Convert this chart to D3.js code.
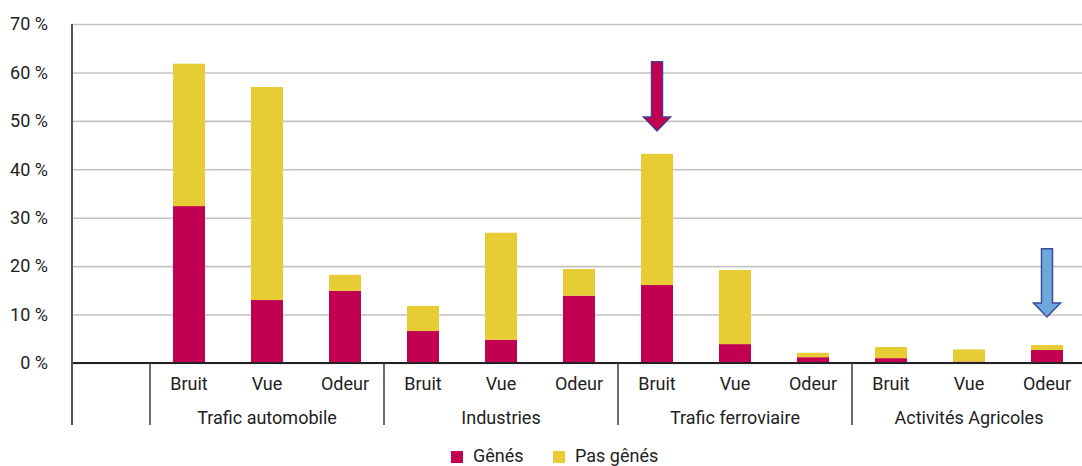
<!DOCTYPE html>
<meta charset="utf-8">
<script src="https://d3js.org/d3.v7.min.js"></script>
<style>
  body { margin: 0; background: white; }
  text { font-family: Roboto, "DejaVu Sans", sans-serif; fill: #222; }
</style>
<body>
<div id="chart"></div>
<script>
var groups = ["Trafic automobile", "Industries", "Trafic ferroviaire", "Activités Agricoles"];
var subs = ["Bruit", "Vue", "Odeur"];
var genes    = [32.4, 13.0, 14.9,  6.6, 4.8, 13.9,  16.1, 3.9, 1.2,  1.0, 0.3, 2.7];
var pasGenes = [29.4, 44.0,  3.3,  5.2, 22.1, 5.5,  27.1, 15.3, 0.9,  2.3, 2.5, 1.0];
var yTicks = [0, 10, 20, 30, 40, 50, 60, 70];
var seriesNames = ["Gênés", "Pas gênés"];
// arrows: slot index, value from -> to
var arrowSlots = [6, 11];
var arrowFrom = [62.2, 23.6];
var arrowTo = [47.9, 9.5];

var W = 1082, H = 466;
var colors = ["#c10052", "#e8cc33"];
var arrowFill = ["#c10052", "#6fa8dc"];
var arrowStroke = ["#4b3c8c", "#3d4c9c"];

var svg = d3.select("#chart").append("svg").attr("width", W).attr("height", H);

var rows = [];
groups.forEach(function(g, gi) {
  subs.forEach(function(s, si) {
    var i = gi * 3 + si;
    rows.push({key: g + "|" + s, group: g, sub: s, genes: genes[i], pas: pasGenes[i]});
  });
});
var keys = ["blank"].concat(rows.map(function(d) { return d.key; }));

var x = d3.scaleBand().domain(keys).range([72, 1086]).paddingInner(0.59).paddingOuter(0.295);
var step = x.step();
var slotLeft = function(k) { return x(k) - step * 0.295; };
var y = d3.scaleLinear().domain([0, 70]).range([363, 24]);

// grid + y labels
var yAxis = svg.append("g").attr("transform", "translate(72,0)")
  .call(d3.axisLeft(y).tickValues(yTicks).tickSize(-(W - 72)).tickFormat(function(d) { return d + " %"; }));
yAxis.select(".domain").remove();
yAxis.selectAll(".tick line").attr("stroke", "#c6c2be").attr("stroke-width", 1.6);
yAxis.selectAll(".tick text").attr("x", -24).attr("font-size", 18)
  .style("font-family", "Roboto, sans-serif").attr("fill", "#222");

// stacked bars
var stack = d3.stack().keys(["genes", "pas"])(rows);
svg.append("g").selectAll("g").data(stack).enter().append("g")
  .attr("fill", function(d, i) { return colors[i]; })
  .selectAll("rect").data(function(d) { return d; }).enter().append("rect")
  .attr("x", function(d) { return x(d.data.key); })
  .attr("width", x.bandwidth())
  .attr("y", function(d) { return y(d[1]); })
  .attr("height", function(d) { return y(d[0]) - y(d[1]); });

// axes lines
svg.append("line").attr("x1", 72).attr("x2", W).attr("y1", y(0)).attr("y2", y(0))
  .attr("stroke", "#222").attr("stroke-width", 1.8);
svg.append("line").attr("x1", 72).attr("x2", 72).attr("y1", y(70)).attr("y2", 425)
  .attr("stroke", "#555").attr("stroke-width", 2);
groups.forEach(function(g, gi) {
  var sx = slotLeft(g + "|" + subs[0]);
  svg.append("line").attr("x1", sx).attr("x2", sx).attr("y1", y(0)).attr("y2", 425)
    .attr("stroke", "#444").attr("stroke-width", 1.6);
  svg.append("text").attr("x", x(g + "|" + subs[1]) + x.bandwidth() / 2).attr("y", 424)
    .attr("text-anchor", "middle").attr("font-size", 18).text(g);
});
svg.append("g").selectAll("text").data(rows).enter().append("text")
  .attr("x", function(d) { return x(d.key) + x.bandwidth() / 2; })
  .attr("y", 390).attr("text-anchor", "middle").attr("font-size", 18)
  .text(function(d) { return d.sub; });

// arrows
arrowSlots.forEach(function(si, i) {
  var cx = x(keys[si + 1]) + x.bandwidth() / 2;
  var y0 = y(arrowFrom[i]), y1 = y(arrowTo[i]);
  var hl = 14, sw = 5.5, hw = 13.5;
  var p = d3.path();
  p.moveTo(cx - sw, y0); p.lineTo(cx + sw, y0); p.lineTo(cx + sw, y1 - hl);
  p.lineTo(cx + hw, y1 - hl); p.lineTo(cx, y1); p.lineTo(cx - hw, y1 - hl);
  p.lineTo(cx - sw, y1 - hl); p.closePath();
  svg.append("path").attr("d", p.toString()).attr("fill", arrowFill[i])
    .attr("stroke", arrowStroke[i]).attr("stroke-width", 1.5);
});

// legend
var legX = [451, 553];
seriesNames.forEach(function(n, i) {
  svg.append("rect").attr("x", legX[i]).attr("y", 451).attr("width", 12).attr("height", 12).attr("fill", colors[i]);
  svg.append("text").attr("x", legX[i] + 22).attr("y", 462).attr("font-size", 18).text(n);
});
</script>
</body>
